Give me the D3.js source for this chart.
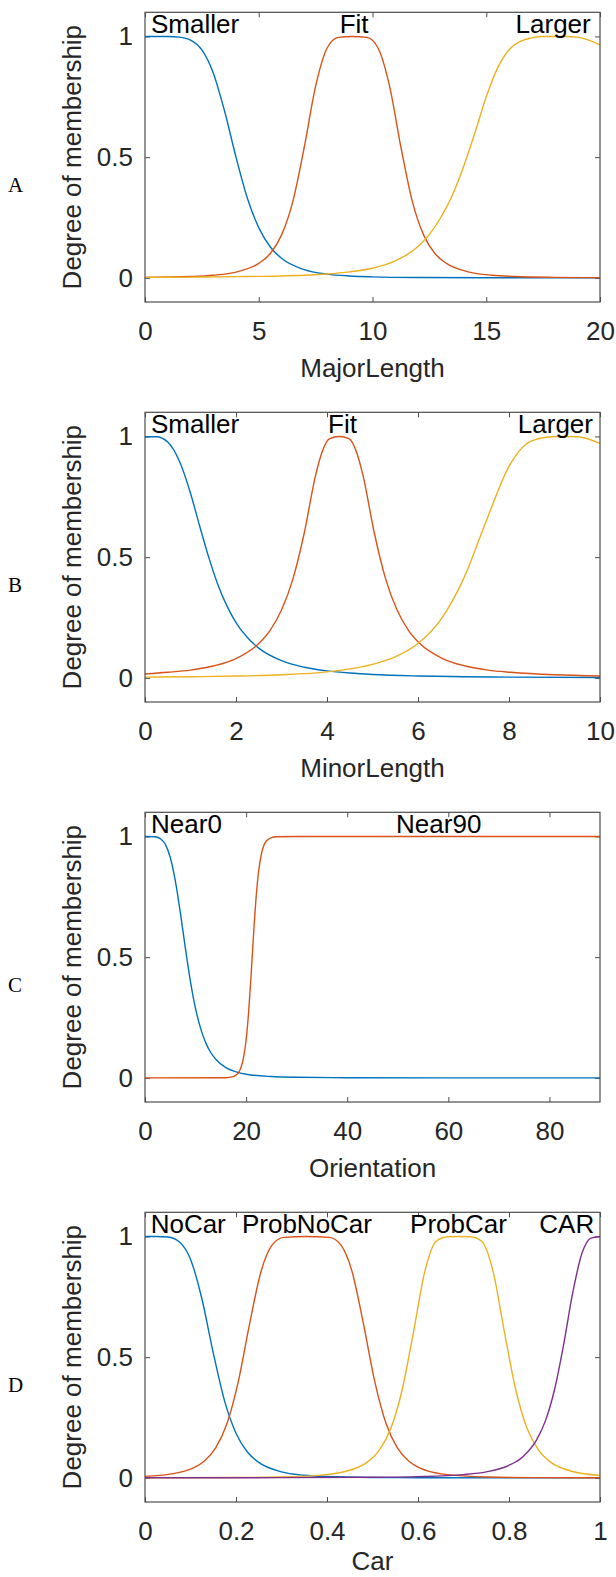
<!DOCTYPE html>
<html>
<head>
<meta charset="utf-8">
<script src="https://cdn.jsdelivr.net/npm/d3@7"></script>
<style>
  body { margin: 0; background: #fff; }
  svg text { font-family: "Liberation Sans", Arial, Helvetica, sans-serif; fill: #262626; }
  .axis text { font-size: 26px; }
  .axis line { stroke: #4d4d4d; }
</style>
</head>
<body>
<svg id="chart" width="616" height="1577"></svg>
<script>
// membership values, [x, degree]
const aSmaller = [[0,1],[1,1],[1.5,0.997],[2,0.985],[2.5,0.944],[3,0.849],[3.5,0.69],[4,0.5],[4.5,0.33],[5,0.208],[5.5,0.129],[6,0.081],[7,0.034],[8,0.0154],[9,0.0077],[10,0.0041],[12,0.0014],[15,0.0004],[20,0.0001]];
const aFit = [[0,0.002],[2,0.0057],[3,0.011],[4,0.024],[5,0.06],[5.5,0.1],[6,0.177],[6.5,0.317],[7,0.541],[7.5,0.794],[8,0.951],[8.5,0.996],[9.1,1],[9.75,0.996],[10.25,0.951],[10.75,0.794],[11.25,0.541],[11.75,0.317],[12.25,0.177],[12.75,0.1],[13.25,0.06],[14.25,0.024],[15.25,0.011],[16.25,0.0057],[18,0.0022],[20,0.0009]];
const aLarger = [[0,0.002],[2,0.003],[4,0.005],[6,0.008],[7,0.011],[8,0.016],[9,0.025],[10,0.04],[11,0.07],[11.5,0.095],[12,0.13],[12.5,0.18],[13,0.25],[13.5,0.34],[14,0.46],[14.5,0.6],[15,0.75],[15.5,0.87],[16,0.945],[16.5,0.98],[17,0.994],[17.5,1],[18.5,1],[19,0.997],[19.5,0.985],[20,0.965]];

const bSmaller = [[0,0.999],[0.25,0.999],[0.5,0.977],[0.75,0.9],[1,0.765],[1.2,0.63],[1.4,0.5],[1.6,0.387],[1.8,0.298],[2,0.229],[2.25,0.167],[2.5,0.123],[3,0.071],[3.5,0.044],[4,0.029],[4.5,0.02],[5,0.014],[6,0.0078],[7,0.0048],[8,0.0031],[10,0.0015]];
const bFit = [[0,0.016],[0.5,0.023],[1,0.032],[1.5,0.049],[2,0.08],[2.5,0.142],[2.75,0.197],[3,0.281],[3.25,0.409],[3.5,0.6],[3.75,0.84],[3.9,0.94],[4.05,0.99],[4.27,1],[4.49,0.99],[4.64,0.94],[4.79,0.84],[5.04,0.6],[5.29,0.409],[5.54,0.281],[5.79,0.197],[6.04,0.142],[6.54,0.08],[7.04,0.049],[7.54,0.032],[8.04,0.023],[9,0.0127],[10,0.0077]];
const bLarger = [[0,0.003],[1,0.0046],[2,0.0075],[3,0.013],[4,0.025],[4.5,0.037],[5,0.056],[5.5,0.087],[6,0.142],[6.5,0.241],[7,0.41],[7.5,0.65],[8,0.876],[8.5,0.982],[9,0.9995],[9.2,1],[9.5,0.999],[10,0.971]];

const cNear0 = [[0,1],[2,0.999],[3,0.991],[4,0.968],[5,0.913],[6,0.816],[7,0.683],[8,0.535],[9,0.398],[10,0.287],[11,0.205],[12,0.146],[13,0.105],[14,0.077],[16,0.042],[18,0.025],[20,0.015],[25,0.0054],[30,0.0023],[40,0.0006],[60,0.0001],[90,0]];
const cNear90 = [[0,0],[15,0.0002],[16,0.0007],[17,0.0028],[18,0.011],[18.5,0.022],[19,0.044],[19.5,0.085],[20,0.157],[20.5,0.273],[21,0.43],[21.5,0.603],[22,0.754],[22.5,0.86],[23,0.925],[23.5,0.962],[24,0.981],[25,0.995],[26,0.999],[30,1],[90,1]];

const dNoCar = [[0,1],[0.025,1],[0.05,0.9975],[0.075,0.978],[0.1,0.906],[0.125,0.742],[0.15,0.518],[0.175,0.318],[0.2,0.185],[0.225,0.107],[0.25,0.064],[0.3,0.025],[0.35,0.011],[0.4,0.0054],[0.5,0.0016],[0.6,0.0006],[0.8,0.0001],[1,0]];
const dProbNoCar = [[0,0.0063],[0.055,0.0154],[0.105,0.04],[0.13,0.069],[0.155,0.123],[0.18,0.224],[0.205,0.399],[0.23,0.639],[0.255,0.855],[0.28,0.966],[0.305,0.996],[0.355,1],[0.405,0.996],[0.43,0.966],[0.455,0.855],[0.48,0.639],[0.505,0.399],[0.53,0.224],[0.555,0.123],[0.58,0.069],[0.605,0.04],[0.655,0.0154],[0.755,0.0033],[0.855,0.001],[1,0.0003]];
const dProbCar = [[0,0.0003],[0.19,0.0013],[0.29,0.0034],[0.38,0.0104],[0.44,0.0263],[0.49,0.0672],[0.515,0.115],[0.54,0.2035],[0.565,0.363],[0.59,0.603],[0.615,0.855],[0.64,0.98],[0.665,0.999],[0.69,1],[0.715,0.999],[0.74,0.98],[0.765,0.855],[0.79,0.603],[0.815,0.363],[0.84,0.2035],[0.865,0.115],[0.89,0.0672],[0.94,0.0263],[1,0.0104]];
const dCAR = [[0,0.0002],[0.3,0.0008],[0.5,0.0024],[0.6,0.0051],[0.7,0.0136],[0.75,0.0249],[0.8,0.0517],[0.83,0.0865],[0.86,0.155],[0.88,0.236],[0.9,0.365],[0.92,0.551],[0.94,0.766],[0.96,0.928],[0.98,0.993],[1,1]];

// tick values
const yTicks = [0, 0.5, 1];
const aTicks = [0, 5, 10, 15, 20];
const bTicks = [0, 2, 4, 6, 8, 10];
const cTicks = [0, 20, 40, 60, 80];
const dTicks = [0, 0.2, 0.4, 0.6, 0.8, 1];

// label positions (x in data units)
const aNames = ['Smaller', 'Fit', 'Larger'];
const aNameX = [2.2, 9.19, 17.94];
const bNames = ['Smaller', 'Fit', 'Larger'];
const bNameX = [1.1, 4.34, 9.02];
const cNames = ['Near0', 'Near90'];
const cNameX = [8.2, 58.1];
const dNames = ['NoCar', 'ProbNoCar', 'ProbCar', 'CAR'];
const dNameX = [0.095, 0.356, 0.689, 0.927];

const colors = ['#0072BD', '#D95319', '#EDB120', '#7E2F8E'];

const panels = [
    { letter: 'A', xlabel: 'MajorLength', domain: [0, 20], ticks: aTicks, curves: [aSmaller, aFit, aLarger], names: aNames, nameX: aNameX },
    { letter: 'B', xlabel: 'MinorLength', domain: [0, 10], ticks: bTicks, curves: [bSmaller, bFit, bLarger], names: bNames, nameX: bNameX },
    { letter: 'C', xlabel: 'Orientation', domain: [0, 90], ticks: cTicks, curves: [cNear0, cNear90], names: cNames, nameX: cNameX },
    { letter: 'D', xlabel: 'Car', domain: [0, 1], ticks: dTicks, curves: [dNoCar, dProbNoCar, dProbCar, dCAR], names: dNames, nameX: dNameX }
];

const svg = d3.select('#chart');
svg.append('rect').attr('width', 616).attr('height', 1577).attr('fill', '#fff');

const left = 145, right = 600;
const top0 = 12.3, bottom0 = 302;

panels.forEach((p, i) => {
    const off = i * 400;
    const g = svg.append('g').attr('transform', `translate(0,${off})`);

    const x = d3.scaleLinear().domain(p.domain).range([left, right]);
    const y = d3.scaleLinear().domain([-0.1, 1.1]).range([bottom0, top0]);

    // axes, ticks pointing inward
    g.append('g').attr('class', 'axis')
        .attr('transform', `translate(0,${bottom0})`)
        .call(d3.axisBottom(x).tickValues(p.ticks).tickFormat(String).tickSizeInner(-5).tickSizeOuter(0).tickPadding(20));
    g.append('g').attr('class', 'axis')
        .attr('transform', `translate(0,${top0})`)
        .call(d3.axisTop(x).tickValues(p.ticks).tickFormat('').tickSizeInner(-5).tickSizeOuter(0));
    g.append('g').attr('class', 'axis')
        .attr('transform', `translate(${left},0)`)
        .call(d3.axisLeft(y).tickValues(yTicks).tickFormat(String).tickSizeInner(-5).tickSizeOuter(0).tickPadding(12));
    g.append('g').attr('class', 'axis')
        .attr('transform', `translate(${right},0)`)
        .call(d3.axisRight(y).tickValues(yTicks).tickFormat('').tickSizeInner(-5).tickSizeOuter(0));
    g.selectAll('.axis .domain').remove();
    g.selectAll('.axis text').attr('fill', '#262626');

    // curves
    const line = d3.line()
        .x(d => x(d[0]))
        .y(d => y(d[1]))
        .curve(d3.curveMonotoneX);
    p.curves.forEach((c, j) => {
        g.append('path')
            .attr('d', line(c))
            .attr('fill', 'none')
            .attr('stroke', colors[j])
            .attr('stroke-width', 1.4);
    });

    // box
    g.append('rect')
        .attr('x', left).attr('y', top0)
        .attr('width', right - left).attr('height', bottom0 - top0)
        .attr('fill', 'none').attr('stroke', '#4d4d4d').attr('stroke-width', 1.2);

    // curve names
    p.names.forEach((n, j) => {
        g.append('text')
            .attr('x', x(p.nameX[j]))
            .attr('y', y(1) - 3)
            .attr('text-anchor', 'middle')
            .attr('font-size', 26)
            .style('fill', '#000')
            .text(n);
    });

    // axis labels (last one nudged up so it stays inside the page)
    g.append('text')
        .attr('x', (left + right) / 2)
        .attr('y', i === 3 ? 370 : 377)
        .attr('text-anchor', 'middle')
        .attr('font-size', 26)
        .text(p.xlabel);
    g.append('text')
        .attr('transform', `translate(81,${(top0 + bottom0) / 2}) rotate(-90)`)
        .attr('text-anchor', 'middle')
        .attr('font-size', 26)
        .text('Degree of membership');

    // panel letter
    g.append('text')
        .attr('x', 8)
        .attr('y', 192)
        .attr('font-size', 21)
        .style('font-family', '"Liberation Serif", "Times New Roman", serif')
        .style('fill', '#000')
        .text(p.letter);
});
</script>
</body>
</html>
